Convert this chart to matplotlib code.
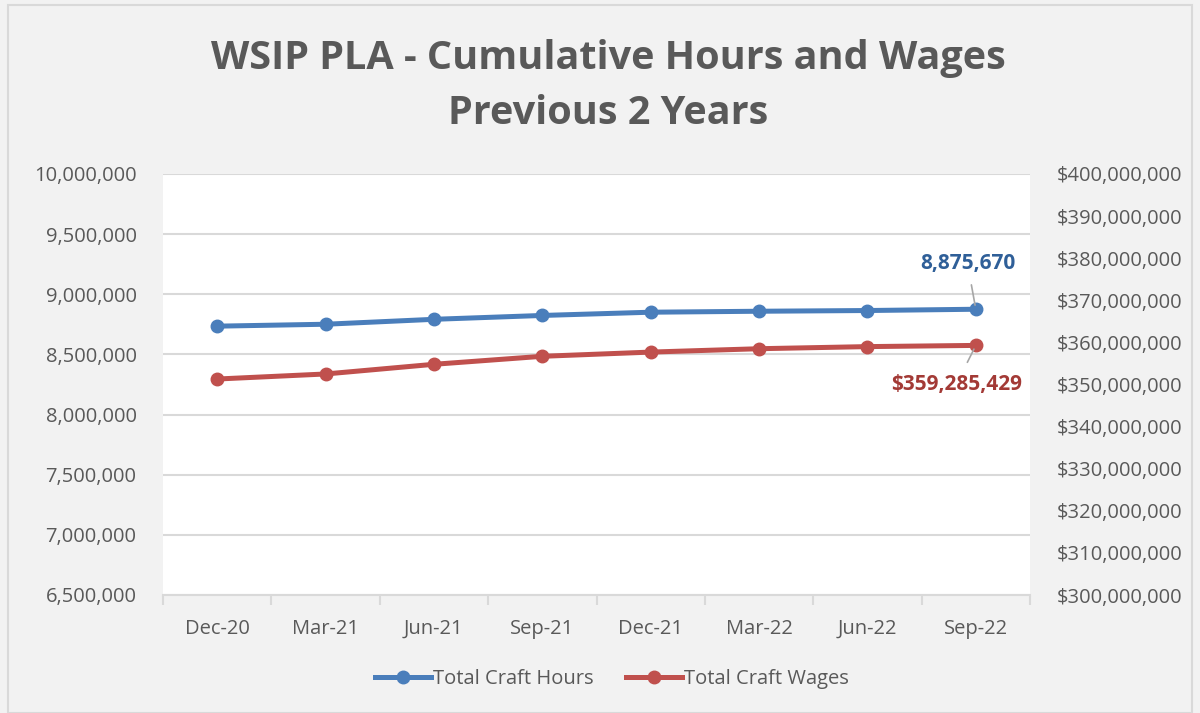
import matplotlib.pyplot as plt
from matplotlib.lines import Line2D
from matplotlib.ticker import FuncFormatter, MultipleLocator
import numpy as np

# data
quarters = ['Dec-20', 'Mar-21', 'Jun-21', 'Sep-21', 'Dec-21', 'Mar-22', 'Jun-22', 'Sep-22']
craft_hours = [8735000, 8751000, 8792000, 8824000, 8851000, 8859000, 8865000, 8875670]
craft_wages = [351300000, 352500000, 354800000, 356700000, 357700000, 358500000, 359000000, 359285429]

blue = '#4a7ebb'
red = '#c0504d'
txt = '#595959'
grid_c = '#d9d9d9'

plt.rcParams['font.family'] = ['Open Sans', 'DejaVu Sans']

fig = plt.figure(figsize=(12, 7.13), dpi=100, facecolor='#f2f2f2')
ax = fig.add_axes([163/1200, 1-595/713, (1030-163)/1200, (595-174)/713])
ax.set_facecolor('white')
ax2 = ax.twinx()

x = np.arange(len(quarters))
ax.plot(x, craft_hours, color=blue, lw=3.6, marker='o', ms=9, solid_capstyle='round', zorder=3)
ax2.plot(x, craft_wages, color=red, lw=3.6, marker='o', ms=9, solid_capstyle='round', zorder=3)

ax.set_xlim(-0.5, len(quarters)-0.5)
ax.set_ylim(6500000, 10000000)
ax.yaxis.set_major_locator(MultipleLocator(500000))
ax.yaxis.set_major_formatter(FuncFormatter(lambda v, p: f'{v:,.0f}'))
ax2.set_ylim(300000000, 400000000)
ax2.yaxis.set_major_locator(MultipleLocator(10000000))
ax2.yaxis.set_major_formatter(FuncFormatter(lambda v, p: f'${v:,.0f}'))

ax.set_xticks(x)
ax.set_xticklabels(quarters)
ax.set_xticks(np.arange(len(quarters)+1)-0.5, minor=True)
ax.tick_params(axis='x', which='major', length=0, pad=17, labelsize=14.5, labelcolor=txt)
ax.tick_params(axis='x', which='minor', length=7, width=1.5, color=grid_c)
ax.tick_params(axis='y', length=0, pad=19, labelsize=14.5, labelcolor=txt)
ax2.tick_params(axis='y', length=0, pad=19, labelsize=14.5, labelcolor=txt)

ax.grid(axis='y', color=grid_c, lw=1.5)
ax.set_axisbelow(True)
for a in (ax, ax2):
    for s in ('left', 'right', 'top'):
        a.spines[s].set_visible(False)
ax.spines['bottom'].set_color(grid_c)
ax.spines['bottom'].set_linewidth(1.5)
ax2.spines['bottom'].set_visible(False)

fig.text(0.507, 1-59/713, 'WSIP PLA - Cumulative Hours and Wages', ha='center', va='center',
         fontsize=28.5, fontweight='bold', color=txt)
fig.text(0.507, 1-114/713, 'Previous 2 Years', ha='center', va='center',
         fontsize=28.5, fontweight='bold', color=txt)

# end-point labels with leader lines
ax.annotate(f'{craft_hours[-1]:,}', xy=(x[-1], craft_hours[-1]), xytext=(-6, 33),
            textcoords='offset points', ha='center', va='center', fontsize=15,
            fontweight='bold', color='#2f5f98',
            arrowprops=dict(arrowstyle='-', color='#a6a6a6', lw=1.2, shrinkA=6, shrinkB=3))
ax2.annotate(f'${craft_wages[-1]:,}', xy=(x[-1], craft_wages[-1]), xytext=(-14, -28),
             textcoords='offset points', ha='center', va='center', fontsize=15,
             fontweight='bold', color='#a33a36',
             arrowprops=dict(arrowstyle='-', color='#a6a6a6', lw=1.2, shrinkA=7, shrinkB=3))

handles = [Line2D([], [], color=blue, lw=3.6, marker='o', ms=9),
           Line2D([], [], color=red, lw=3.6, marker='o', ms=9)]
fig.legend(handles, ['Total Craft Hours', 'Total Craft Wages'], loc='center',
           bbox_to_anchor=(0.51, 1-679/713), ncol=2, frameon=False, fontsize=14.5,
           labelcolor=txt, handlelength=2.8, handletextpad=0.1, columnspacing=1.6)

# outer chart border
fig.add_artist(plt.Rectangle((8/1200, 0), 1-16/1200, 1-5/713, transform=fig.transFigure,
                             fill=False, edgecolor='#d9d9d9', lw=1.5))

fig.savefig('out.png', dpi=100, facecolor=fig.get_facecolor())
